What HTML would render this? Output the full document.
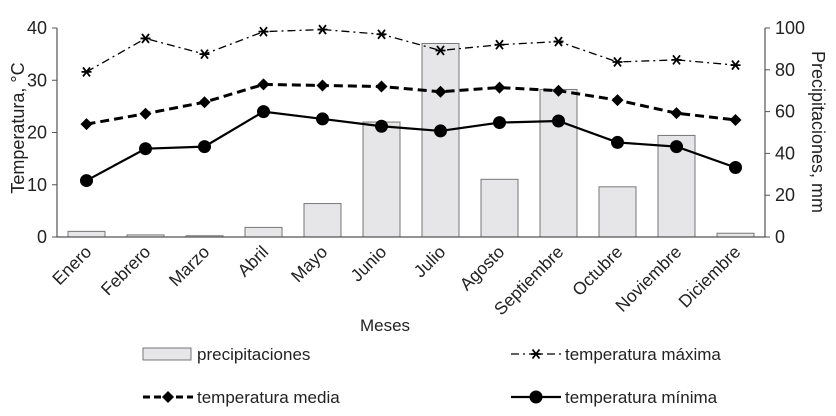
<!DOCTYPE html>
<html><head><meta charset="utf-8"><style>
body{margin:0;background:#fff}
svg{font-family:"Liberation Sans",Arial,sans-serif;display:block}
</style></head><body>
<svg id="c" width="836" height="416" viewBox="0 0 836 416"></svg>
<script>
const months=["Enero","Febrero","Marzo","Abril","Mayo","Junio","Julio","Agosto","Septiembre","Octubre","Noviembre","Diciembre"];
const precip=[2.7,1,0.6,4.6,16,55,92.6,27.6,70.6,24,48.6,1.8];
const tMax=[31.6,38.0,35.0,39.3,39.7,38.8,35.7,36.8,37.4,33.5,33.9,32.9];
const tMed=[21.6,23.6,25.8,29.2,29.0,28.8,27.8,28.6,28.0,26.2,23.7,22.4];
const tMin=[10.8,16.9,17.3,24.0,22.6,21.2,20.3,21.9,22.2,18.1,17.3,13.3];
const leftTicks=[0,10,20,30,40];
const rightTicks=[0,20,40,60,80,100];

const svg=document.getElementById('c');const NS='http://www.w3.org/2000/svg';
function el(t,a,p){const e=document.createElementNS(NS,t);for(const k in a)e.setAttribute(k,a[k]);(p||svg).appendChild(e);return e;}
const X0=57,X1=765,Y0=237,Y1=28,step=(X1-X0)/months.length;
const xc=i=>X0+step*(i+0.5);
const yT=v=>Y0-(v/40)*(Y0-Y1);
const yP=v=>Y0-(v/100)*(Y0-Y1);

const gb=el('g',{});

precip.forEach((v,i)=>{const r=el('rect',{x:xc(i)-18.5,y:yP(v),width:37,height:Y0-yP(v),fill:'#e6e6e8',stroke:'#777','stroke-width':1},gb);

});

const ax=el('path',{d:`M${X0},${Y1}V${Y0}H${X1}V${Y1}`,fill:'none',stroke:'#555','stroke-width':1.2});

leftTicks.forEach(v=>{el('line',{x1:X0-5,x2:X0,y1:yT(v),y2:yT(v),stroke:'#555'});
const t=el('text',{x:47,y:yT(v)+6,'text-anchor':'end','font-size':18,fill:'#222'});t.textContent=v;
});
rightTicks.forEach(v=>{el('line',{x1:X1,x2:X1+5,y1:yP(v),y2:yP(v),stroke:'#555'});
const t=el('text',{x:775,y:yP(v)+6,'font-size':18,fill:'#222'});t.textContent=v;
});
months.forEach((m,i)=>{const t=el('text',{x:0,y:0,'text-anchor':'end','font-size':17.5,fill:'#222',transform:`translate(${xc(i)+6},${Y0+16}) rotate(-45)`});t.textContent=m;
});

let t=el('text',{x:0,y:0,'text-anchor':'middle','font-size':18,fill:'#222',transform:`translate(24,128) rotate(-90)`});t.textContent='Temperatura, °C';

t=el('text',{x:0,y:0,'text-anchor':'middle','font-size':18,fill:'#222',transform:`translate(812,132) rotate(90)`});t.textContent='Precipitaciones, mm';

t=el('text',{x:385,y:331,'text-anchor':'middle','font-size':17,fill:'#222'});t.textContent='Meses';


function star(g,x,y){el('path',{d:`M${x-5},${y}H${x+5}M${x-3.5},${y-4.5}L${x+3.5},${y+4.5}M${x-3.5},${y+4.5}L${x+3.5},${y-4.5}`,stroke:'#000','stroke-width':1.8},g);}
function diamond(g,x,y){el('path',{d:`M${x},${y-6}L${x+6},${y}L${x},${y+6}L${x-6},${y}Z`,fill:'#000'},g);}
function dot(g,x,y){el('circle',{cx:x,cy:y,r:6.5,fill:'#000'},g);}
function series(data,name,dash,w,mk){const g=el('g',{});

el('polyline',{points:data.map((v,i)=>xc(i)+','+yT(v)).join(' '),fill:'none',stroke:'#000','stroke-width':w,'stroke-dasharray':dash},g);
data.forEach((v,i)=>mk(g,xc(i),yT(v)));}
series(tMax,'series-temp-max','8,4,2,4',1.3,star);
series(tMed,'series-temp-media','9,5',3,diamond);
series(tMin,'series-temp-min','',2.2,dot);

function leg(x,y,label,name,draw){const g=el('g',{});

draw(g);const tx=el('text',{x:x,y:y+6,'font-size':17,fill:'#222'},g);tx.textContent=label;}
leg(197,354,'precipitaciones','legend-precipitaciones',g=>el('rect',{x:143,y:348,width:48,height:12,fill:'#e6e6e8',stroke:'#777'},g));
leg(565,354,'temperatura máxima','legend-temp-max',g=>{el('line',{x1:511,x2:561,y1:354,y2:354,stroke:'#000','stroke-width':1.3,'stroke-dasharray':'8,4,2,4'},g);star(g,536,354);});
leg(197,397,'temperatura media','legend-temp-media',g=>{el('line',{x1:143,x2:193,y1:397,y2:397,stroke:'#000','stroke-width':3,'stroke-dasharray':'7,4'},g);diamond(g,168,397);});
leg(565,397,'temperatura mínima','legend-temp-min',g=>{el('line',{x1:511,x2:561,y1:397,y2:397,stroke:'#000','stroke-width':2.2},g);dot(g,536,397);});
</script>
</body></html>
